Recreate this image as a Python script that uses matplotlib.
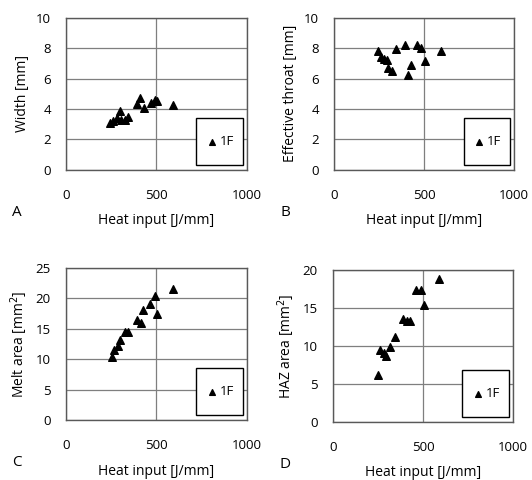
import matplotlib
matplotlib.use("Agg")
import matplotlib.pyplot as plt
from matplotlib.patches import Rectangle

plt.rcParams['font.family'] = ['Open Sans', 'DejaVu Sans']

# heat input [J/mm] for each weld
heat_w = [246, 261, 280, 298, 307, 325, 344, 395, 408, 430, 472, 491, 504, 592]
width = [3.1, 3.2, 3.4, 3.85, 3.3, 3.3, 3.5, 4.3, 4.7, 4.05, 4.4, 4.6, 4.5, 4.25]

heat_t = [246, 259, 278, 296, 302, 320, 344, 394, 409, 428, 459, 481, 505, 592]
throat = [7.8, 7.43, 7.3, 7.25, 6.7, 6.48, 7.96, 8.18, 6.26, 6.92, 8.24, 8.02, 7.19, 7.8]

heat_m = [252, 267, 289, 298, 325, 344, 393, 414, 426, 463, 491, 506, 592]
melt = [10.3, 11.5, 12.1, 13.1, 14.4, 14.4, 16.5, 15.9, 18.0, 19.0, 20.4, 17.4, 21.5]

heat_h = [249, 262, 284, 295, 317, 345, 391, 410, 428, 461, 487, 506, 590]
haz = [6.15, 9.4, 9.0, 8.7, 9.9, 11.1, 13.5, 13.3, 13.3, 17.3, 17.3, 15.4, 18.8]

panels = [
    ("A", heat_w, width, "Width [mm]", 10, 2, [0.124, 0.646, 0.340, 0.317]),
    ("B", heat_t, throat, "Effective throat [mm]", 10, 2, [0.628, 0.646, 0.338, 0.317]),
    ("C", heat_m, melt, "Melt area [mm$^2$]", 25, 5, [0.124, 0.125, 0.340, 0.317]),
    ("D", heat_h, haz, "HAZ area [mm$^2$]", 20, 5, [0.626, 0.121, 0.338, 0.317]),
]

fig = plt.figure(figsize=(5.32, 4.8), dpi=100)

for letter, x, y, ylab, ymax, ystep, pos in panels:
    ax = fig.add_axes(pos)
    ax.scatter(x, y, marker="^", s=30, color="black", label="1F", zorder=3)
    ax.set_xlim(0, 1000)
    ax.set_ylim(0, ymax)
    ax.set_xticks([0, 500, 1000])
    ax.set_yticks(range(0, ymax + 1, ystep))
    ax.grid(True, color="#7f7f7f", linewidth=0.9)
    ax.set_axisbelow(True)
    for s in ax.spines.values():
        s.set_color("#595959")
        s.set_linewidth(1.0)
    ax.tick_params(length=0, labelsize=9.5)
    ax.tick_params(axis="x", pad=14)
    ax.tick_params(axis="y", pad=11)
    ax.set_xlabel("Heat input [J/mm]", fontsize=10, labelpad=8)
    ax.set_ylabel(ylab, fontsize=10, labelpad=4)
    # legend box
    ax.add_patch(Rectangle((0.72, 0.03), 0.26, 0.31, transform=ax.transAxes,
                           facecolor="white", edgecolor="black", linewidth=1.0,
                           zorder=4))
    leg = ax.legend(loc="center", bbox_to_anchor=(0.85, 0.185), frameon=False,
                    handletextpad=0.1, handlelength=1.0, borderaxespad=0,
                    fontsize=9.5, scatterpoints=1, markerscale=0.75)
    leg.set_zorder(5)
    ax.text(-0.3, -0.28, letter, transform=ax.transAxes, fontsize=11, va="center")

fig.savefig("out.png", dpi=100)
